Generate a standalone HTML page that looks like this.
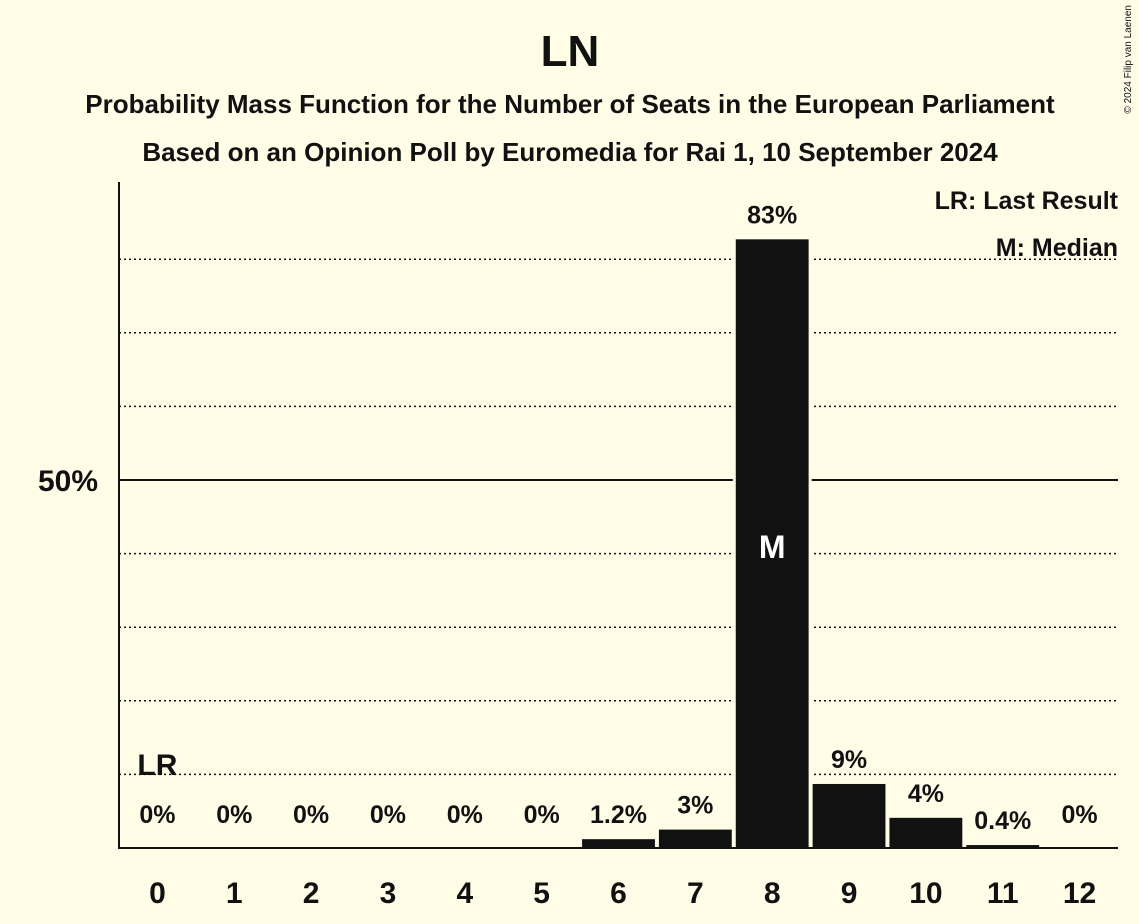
<!DOCTYPE html>
<html><head><meta charset="utf-8"><style>
body{margin:0;background:#fffde6;}
svg{display:block;font-family:"Liberation Sans",sans-serif;font-weight:bold;}
</style></head><body>
<svg id="chart" width="1139" height="924">
<rect width="1139" height="924" fill="#fffde6"/>
<text x="570" y="66" font-size="44" text-anchor="middle" fill="#111">LN</text>
<text x="570" y="113" font-size="26" text-anchor="middle" fill="#111">Probability Mass Function for the Number of Seats in the European Parliament</text>
<text x="570" y="161" font-size="26" text-anchor="middle" fill="#111">Based on an Opinion Poll by Euromedia for Rai 1, 10 September 2024</text>
<text x="1131" y="5" font-size="10" font-weight="normal" fill="#111" transform="rotate(-90 1131 5)" text-anchor="end">© 2024 Filip van Laenen</text>
<g id="grid"></g>
<g id="bars"></g>
<line x1="119" y1="182" x2="119" y2="849" stroke="#111" stroke-width="2"/>
<line x1="118" y1="848" x2="1118" y2="848" stroke="#111" stroke-width="2"/>
<text x="1118" y="209" font-size="25" text-anchor="end" fill="#111">LR: Last Result</text>
<text x="1118" y="256" font-size="25" text-anchor="end" fill="#111">M: Median</text>
</svg>
<script>
const seats=[0,1,2,3,4,5,6,7,8,9,10,11,12];
const probs=[0,0,0,0,0,0,1.2,2.5,82.7,8.7,4.1,0.4,0];
const labels=["0%","0%","0%","0%","0%","0%","1.2%","3%","83%","9%","4%","0.4%","0%"];
const gridTicks=[10,20,30,40,50,60,70,80];
const medianSeat=8, lastResultSeat=0;
const NS="http://www.w3.org/2000/svg";
const x0=119,x1=1118,yb=848,pxPer=7.36,step=(x1-x0)/seats.length;
const y=v=>yb-v*pxPer, xc=i=>x0+step*(i+0.5);
function mk(t,a,p,txt){const e=document.createElementNS(NS,t);for(const k in a)e.setAttribute(k,a[k]);if(txt!==undefined)e.textContent=txt;p.appendChild(e);return e;}
const g=document.getElementById('grid'),b=document.getElementById('bars');
gridTicks.forEach(t=>{
  if(t===50){
    const l=mk('line',{x1:x0,x2:x1,y1:y(t),y2:y(t),stroke:'#111','stroke-width':2},g);
    
    
    const tx=mk('text',{x:98,y:y(t)+11,'font-size':30,'text-anchor':'end',fill:'#111'},g,'50%');
    
    
  } else {
    const l=mk('line',{x1:x0,x2:x1,y1:y(t),y2:y(t),stroke:'#111','stroke-width':1.5,'stroke-dasharray':'2,3'},g);
    
    
  }
});
seats.forEach((s,i)=>{
  const h=probs[i]*pxPer,cx=xc(i),w=step-4;
  if(h>0){
    const bg=mk('rect',{x:cx-w/2-3,y:yb-h-3,width:w+6,height:h+3,fill:'#fffde6'},b);
    
    
    const r=mk('rect',{x:cx-w/2,y:yb-h,width:w,height:h,fill:'#111'},b);
    
    
  }
  const ly=h>0?yb-h-16:yb-25;
  const vl=mk('text',{x:cx,y:ly,'font-size':25,'text-anchor':'middle',fill:'#111'},b,labels[i]);
  
  
  const xl=mk('text',{x:cx,y:903,'font-size':30,'text-anchor':'middle',fill:'#111'},b,String(s));
  
  
  if(s===medianSeat){
    const m=mk('text',{x:cx,y:558,'font-size':32,'text-anchor':'middle',fill:'#fff'},b,'M');
    
    
  }
  if(s===lastResultSeat){
    const lr=mk('text',{x:cx,y:775,'font-size':30,'text-anchor':'middle',fill:'#111'},b,'LR');
    
    
  }
});
</script>
</body></html>
